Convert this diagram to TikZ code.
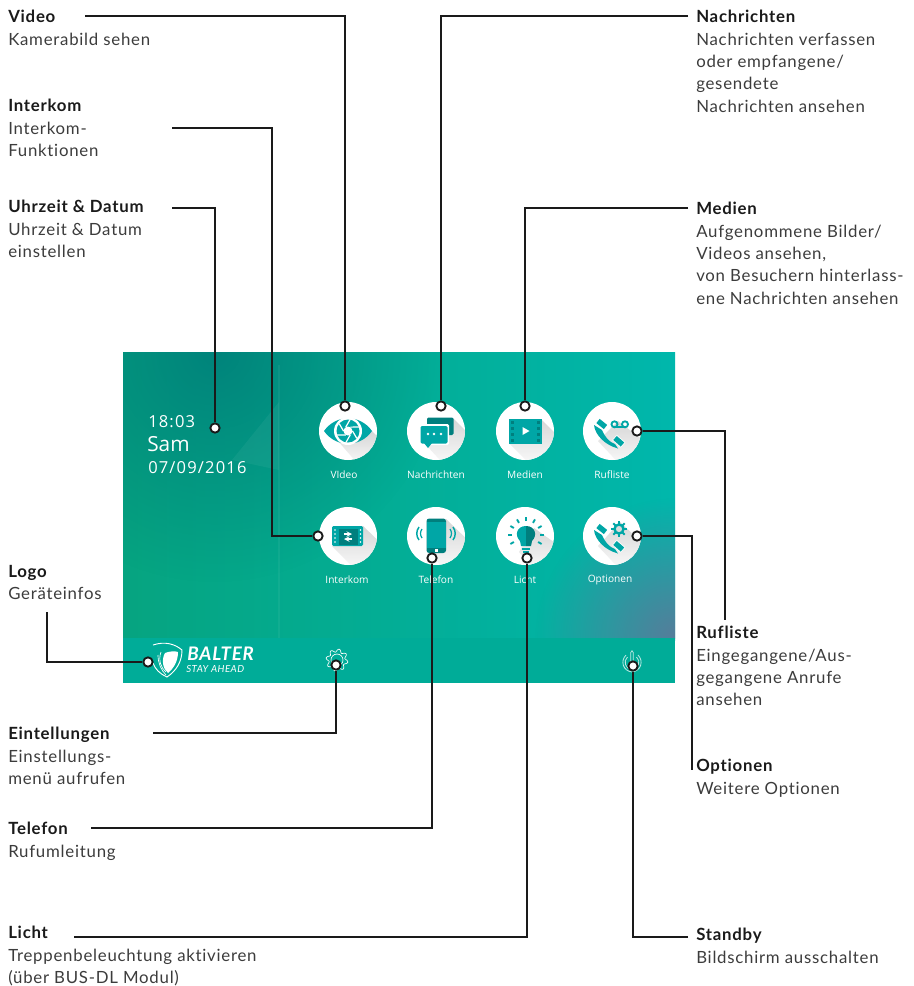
\documentclass[tikz,border=0pt]{standalone}
\usepackage{fontspec}
\setmainfont[LetterSpace=4.5,Ligatures=NoCommon]{Lato}
\newfontfamily\screenfont{Open Sans}
\newfontfamily\clockfont[LetterSpace=7]{Open Sans}
\usetikzlibrary{fadings}
\definecolor{inkdark}{HTML}{1A1A1A}
\definecolor{inkgrey}{HTML}{3C3C3C}
\definecolor{iconteal}{HTML}{00A6A6}
\definecolor{icondark}{HTML}{007F7E}
\definecolor{barteal}{HTML}{00AC98}
\definecolor{screenL}{HTML}{06A480}
\definecolor{screenM}{HTML}{00A982}
\definecolor{screenR}{HTML}{00B7AC}
\definecolor{screenShade}{HTML}{00807A}
\definecolor{screenDusk}{HTML}{6C6E96}
\tikzfading[name=cornerfade, inner color=transparent!20, outer color=transparent!100]
\tikzfading[name=topfade, inner color=transparent!10, outer color=transparent!100]
\tikzset{
  lbl/.style={anchor=north west, inner sep=0pt, align=left, text=inkgrey,
    font=\fontsize{12.6}{16.8}\selectfont, execute at begin node={\rule{0pt}{12pt}}},
  leader/.style={draw=inkdark, line width=1.5pt},
  dotmark/.style={circle, draw=inkdark, fill=white, line width=1.4pt, minimum size=7pt, inner sep=0pt},
  iconbase/.style={circle, fill=white, minimum size=43.5pt, inner sep=0pt},
  caption/.style={text=white, inner sep=0pt, font=\screenfont\fontsize{7.6}{9}\selectfont},
  clock/.style={anchor=base west, text=white, inner sep=0pt},
  handset/.pic={
    \fill[iconteal] (-18,-6) .. controls (-17,4) and (-7,14) .. (6,17.5) -- (3,13) .. controls (-3,11) and (-7,6) .. (-10,-1) -- cycle;
    \draw[white, line width=5.2pt] (-14.5,-10.5) -- (-6,-3.5);
    \draw[white, line width=5.2pt] (2.5,6.5) -- (11,14);
    \draw[iconteal, line width=4pt] (-14,-10) -- (-6.5,-4);
    \draw[iconteal, line width=4pt] (3,7) -- (10.5,13.5);
  }
}
\newcommand{\longshadow}[1]{%
  \begin{scope}
    \clip (0,0) circle (29);
    \shade[top color=black!16, bottom color=white, shading angle=0] #1;
  \end{scope}}
\begin{document}
\begin{tikzpicture}[x=0.75pt, y=-0.75pt]
  \useasboundingbox (0,0) rectangle (914,986);
  % screen
  \shade[left color=screenL, middle color=screenM, right color=screenR] (123,352) rectangle (675,640);
  \begin{scope}
    \clip (123,352) rectangle (675,638);
    \fill[screenShade, path fading=topfade] (215,352) circle (230);
    \fill[white, opacity=0.05] (279,402) -- (232,460) -- (279,470) -- cycle;
    \fill[white, opacity=0.05] (278,365) rectangle (280,640);
    \fill[screenDusk, path fading=cornerfade] (675,638) circle (140);
  \end{scope}
  \fill[barteal] (123,638) rectangle (675,683);
  % clock
  \node[clock, font=\clockfont\fontsize{12.4}{14}\selectfont] (clockTime) at (148,427) {18:03};
  \node[clock, font=\screenfont\fontsize{15.6}{18}\selectfont] (clockDay) at (147,451) {Sam};
  \node[clock, font=\clockfont\fontsize{12.4}{14}\selectfont] (clockDate) at (148,473) {07/09/2016};
  % icons
  \node[iconbase] (vidIcon) at (348,431) {};
  \node[iconbase] (msgIcon) at (436,431) {};
  \node[iconbase] (medIcon) at (525,431) {};
  \node[iconbase] (rufIcon) at (612,431) {};
  \node[iconbase] (intIcon) at (348,536) {};
  \node[iconbase] (telIcon) at (436,536) {};
  \node[iconbase] (lichtIcon) at (525,536) {};
  \node[iconbase] (optIcon) at (612,536) {};
  \node[caption] (vidCap) at (344,475) {VIdeo};
  \node[caption] (msgCap) at (436,475) {Nachrichten};
  \node[caption] (medCap) at (525,475) {Medien};
  \node[caption] (rufCap) at (612,475) {Rufliste};
  \node[caption] (intCap) at (347,580) {Interkom};
  \node[caption] (telCap) at (436,580) {Telefon};
  \node[caption] (lichtCap) at (525,580) {Licht};
  \node[caption] (optCap) at (610,580) {Optionen};
  % video icon
  \begin{scope}[shift={(348,431)}]
    \longshadow{(-10,10) -- (24,0) -- (40,16) -- (16,40) -- cycle}
    \fill[iconteal] (-24,0) .. controls (-12,-17) and (12,-17) .. (24,0) .. controls (12,17) and (-12,17) .. (-24,0) -- cycle;
    \fill[white] (0,0) circle (14);
    \fill[iconteal] (0,0) circle (11.5);
    \foreach \a in {0,60,...,300}
      \draw[white, line width=0.9pt] (\a:4.5) -- (\a+40:11.5);
    \fill[white] (0,0) circle (4.5);
  \end{scope}
  % message icon
  \begin{scope}[shift={(436,431)}]
    \longshadow{(-8,16) -- (17,-13) -- (40,10) -- (14,40) -- cycle}
    \fill[icondark, rounded corners=1pt] (-9,-13.5) rectangle (17.5,4);
    \fill[white, rounded corners=1pt] (-17,-7) rectangle (13,14);
    \fill[iconteal, rounded corners=1pt] (-15.5,-5) rectangle (11.5,12.5);
    \fill[iconteal] (-12,12) -- (-8,17) -- (-4,12) -- cycle;
    \foreach \x in {-8,-2,5}
      \fill[white] (\x,3) circle (1.3);
  \end{scope}
  % media icon
  \begin{scope}[shift={(525,431)}]
    \longshadow{(-16,12) -- (16,-12) -- (40,12) -- (12,40) -- cycle}
    \fill[iconteal] (-16,-12.5) rectangle (16.5,12.5);
    \foreach \y in {-10.5,-4.5,1.5,7.5} {
      \fill[icondark] (-14.5,\y) rectangle (-11,\y+3.5);
      \fill[icondark] (11.5,\y) rectangle (15,\y+3.5);
    }
    \fill[white] (-2.5,-4) -- (4.5,0) -- (-2.5,4) -- cycle;
  \end{scope}
  % call list icon
  \begin{scope}[shift={(612,431)}]
    \longshadow{(-14,10) -- (6,-10) -- (40,16) -- (14,40) -- cycle}
    \pic at (0,0) {handset};
    \draw[iconteal, line width=1.4pt] (2.5,-6.7) circle (3) (13,-6.7) circle (3);
    \draw[iconteal, line width=1.4pt] (2.5,-3.7) -- (13,-3.7);
  \end{scope}
  % intercom icon
  \begin{scope}[shift={(348,536)}]
    \longshadow{(-16,10) -- (15,-10) -- (40,14) -- (14,40) -- cycle}
    \fill[iconteal, rounded corners=1pt] (-16,-10) rectangle (15,10);
    \fill[icondark] (-9.5,-7.5) rectangle (9.5,9);
    \foreach \y in {-6,-2,2,6} {
      \fill[white] (-13,\y) circle (0.9);
      \fill[white] (12.5,\y) circle (0.9);
    }
    \draw[white, line width=0.8pt, -stealth] (-4,-2) -- (4,-2);
    \draw[white, line width=0.8pt, -stealth] (4,3) -- (-4,3);
  \end{scope}
  % phone icon
  \begin{scope}[shift={(436,536)}]
    \longshadow{(-9,14) -- (10,-17) -- (40,12) -- (14,40) -- cycle}
    \fill[icondark, rounded corners=2pt] (-9.5,-17.5) rectangle (10,17);
    \fill[iconteal] (-9.5,-14.5) rectangle (10,11.5);
    \fill[white] (-1.5,12.5) rectangle (1.5,15.5);
    \foreach \s in {1,-1} {
      \draw[iconteal, line width=0.9pt] (\s*14,-7) .. controls (\s*16,-4) and (\s*16,-1) .. (\s*14,2);
      \draw[iconteal, line width=1.1pt] (\s*17,-9) .. controls (\s*20,-5) and (\s*20,0) .. (\s*17,4);
    }
  \end{scope}
  % light icon
  \begin{scope}[shift={(525,536)}]
    \longshadow{(-6,16) -- (9,-8) -- (40,14) -- (14,40) -- cycle}
    \fill[iconteal] (1,-10) .. controls (-8,-10) and (-11,-1) .. (-5,5) -- (-4,10) -- (1,10) -- cycle;
    \fill[icondark] (1,-10) .. controls (10,-10) and (13,-1) .. (7,5) -- (6,10) -- (1,10) -- cycle;
    \fill[iconteal] (-3,11.5) rectangle (5,13.5);
    \fill[iconteal] (-2,14.5) rectangle (4,16.5);
    \foreach \a in {-150,-120,-90,-60,-30,0,30,150,180}
      \draw[iconteal, line width=1.4pt] ([shift={(1,-1)}]\a:14) -- ([shift={(1,-1)}]\a:18);
  \end{scope}
  % options icon
  \begin{scope}[shift={(612,536)}]
    \longshadow{(-14,10) -- (8,-14) -- (40,16) -- (14,40) -- cycle}
    \pic at (0,0) {handset};
    \draw[iconteal, line width=1.8pt] (7,-7) circle (4.5);
    \foreach \a in {0,45,...,315}
      \draw[iconteal, line width=1.5pt] ([shift={(7,-7)}]\a:5) -- ([shift={(7,-7)}]\a:8);
  \end{scope}
  % logo
  \draw[white, line width=0.7pt] (153,645) .. controls (165,641) and (175,644) .. (182,650) .. controls (182,662) and (176,671) .. (167,677) .. controls (160,674) and (155,669) .. (153,663);
  \fill[white] (165,653) .. controls (170,651) and (175,651) .. (178,652) .. controls (178,661) and (174,668) .. (168,673) .. controls (163,669) and (161,660) .. (165,653) -- cycle;
  \draw[white, line width=0.5pt] (158,655) .. controls (158,663) and (161,670) .. (166,675);
  \draw[white, line width=0.5pt] (161,652) .. controls (158,660) and (161,668) .. (166,672);
  \node[anchor=base west, inner sep=0pt, text=white, font=\fontsize{14}{16}\bfseries\itshape\selectfont] (logoName) at (187,660) {BALTER};
  \node[anchor=base west, inner sep=0pt, text=white, font=\fontsize{7.3}{8}\itshape\selectfont] (logoTag) at (186,672) {STAY AHEAD};
  % settings gear
  \begin{scope}[shift={(337,660)}]
    \draw[white, line width=0.5pt] plot[domain=0:360, samples=145] (\x:{9.5+1.5*sin(8*\x)});
    \draw[white, line width=0.5pt] (0,0) circle (6);
  \end{scope}
  % power icon
  \begin{scope}[shift={(632,661)}]
    \draw[white!75!barteal, line width=0.6pt, rounded corners=1pt] (-1.2,-10) rectangle (1.2,3);
    \draw[white!75!barteal, line width=0.6pt] (-4.5,-4) .. controls (-9,0) and (-7,8) .. (0,8.5) .. controls (7,8) and (9,0) .. (4.5,-4);
    \draw[white!75!barteal, line width=0.6pt] (-6,-6) .. controls (-12,0) and (-9,10) .. (0,11) .. controls (9,10) and (12,0) .. (6,-6);
  \end{scope}
  % labels
  \node[lbl] (vidLbl) at (8,10) {\textcolor{inkdark}{\textbf{Video}}\\Kamerabild sehen};
  \node[lbl] (intLbl) at (8,99) {\textcolor{inkdark}{\textbf{Interkom}}\\Interkom-\\Funktionen};
  \node[lbl] (uhrLbl) at (8,200) {\textcolor{inkdark}{\textbf{Uhrzeit \& Datum}}\\Uhrzeit \& Datum\\einstellen};
  \node[lbl] (logoLbl) at (8,565) {\textcolor{inkdark}{\textbf{Logo}}\\Geräteinfos};
  \node[lbl] (einLbl) at (8,727) {\textcolor{inkdark}{\textbf{Eintellungen}}\\Einstellungs-\\menü aufrufen};
  \node[lbl] (telLbl) at (8,822) {\textcolor{inkdark}{\textbf{Telefon}}\\Rufumleitung};
  \node[lbl] (lichtLbl) at (8,926) {\textcolor{inkdark}{\textbf{Licht}}\\Treppenbeleuchtung aktivieren\\(über BUS-DL Modul)};
  \node[lbl] (msgLbl) at (696,10) {\textcolor{inkdark}{\textbf{Nachrichten}}\\Nachrichten verfassen\\oder empfangene/\\gesendete\\Nachrichten ansehen};
  \node[lbl] (medLbl) at (696,202) {\textcolor{inkdark}{\textbf{Medien}}\\Aufgenommene Bilder/\\Videos ansehen,\\von Besuchern hinterlass-\\ene Nachrichten ansehen};
  \node[lbl] (rufLbl) at (696,626) {\textcolor{inkdark}{\textbf{Rufliste}}\\Eingegangene/Aus-\\gegangene Anrufe\\ansehen};
  \node[lbl] (optLbl) at (696,759) {\textcolor{inkdark}{\textbf{Optionen}}\\Weitere Optionen};
  \node[lbl] (stbyLbl) at (696,928) {\textcolor{inkdark}{\textbf{Standby}}\\Bildschirm ausschalten};
  % dots
  \node[dotmark] (vidDot) at (345,406) {};
  \node[dotmark] (msgDot) at (441,406) {};
  \node[dotmark] (medDot) at (525,406) {};
  \node[dotmark] (rufDot) at (637,431) {};
  \node[dotmark] (uhrDot) at (215,428) {};
  \node[dotmark] (intDot) at (318,536) {};
  \node[dotmark] (optDot) at (637,536) {};
  \node[dotmark] (telDot) at (432,558) {};
  \node[dotmark] (lichtDot) at (527,558) {};
  \node[dotmark] (logoDot) at (148,662) {};
  \node[dotmark] (einDot) at (336,665) {};
  \node[dotmark] (stbyDot) at (633,666) {};
  % free ends of the leaders
  \coordinate (vidEnd) at (85,16);
  \coordinate (intEnd) at (172,128);
  \coordinate (intBend) at (272,536);
  \coordinate (uhrEnd) at (172,208);
  \coordinate (logoEnd) at (47,612);
  \coordinate (einEnd) at (153,733);
  \coordinate (telEnd) at (91,828);
  \coordinate (lichtEnd) at (74,937);
  \coordinate (msgEnd) at (688,16);
  \coordinate (medEnd) at (688,208);
  \coordinate (rufEnd) at (725,620);
  \coordinate (optEnd) at (692,770);
  \coordinate (stbyEnd) at (688,937);
  % leaders
  \draw[leader] (vidEnd) -| (vidDot);
  \draw[leader] (intEnd) -| (intBend) -- (intDot);
  \draw[leader] (uhrEnd) -| (uhrDot);
  \draw[leader] (logoEnd) |- (logoDot);
  \draw[leader] (einEnd) -| (einDot);
  \draw[leader] (telEnd) -| (telDot);
  \draw[leader] (lichtEnd) -| (lichtDot);
  \draw[leader] (msgEnd) -| (msgDot);
  \draw[leader] (medEnd) -| (medDot);
  \draw[leader] (rufDot) -| (rufEnd);
  \draw[leader] (optDot) -| (optEnd);
  \draw[leader] (stbyEnd) -| (stbyDot);
\end{tikzpicture}
\end{document}
